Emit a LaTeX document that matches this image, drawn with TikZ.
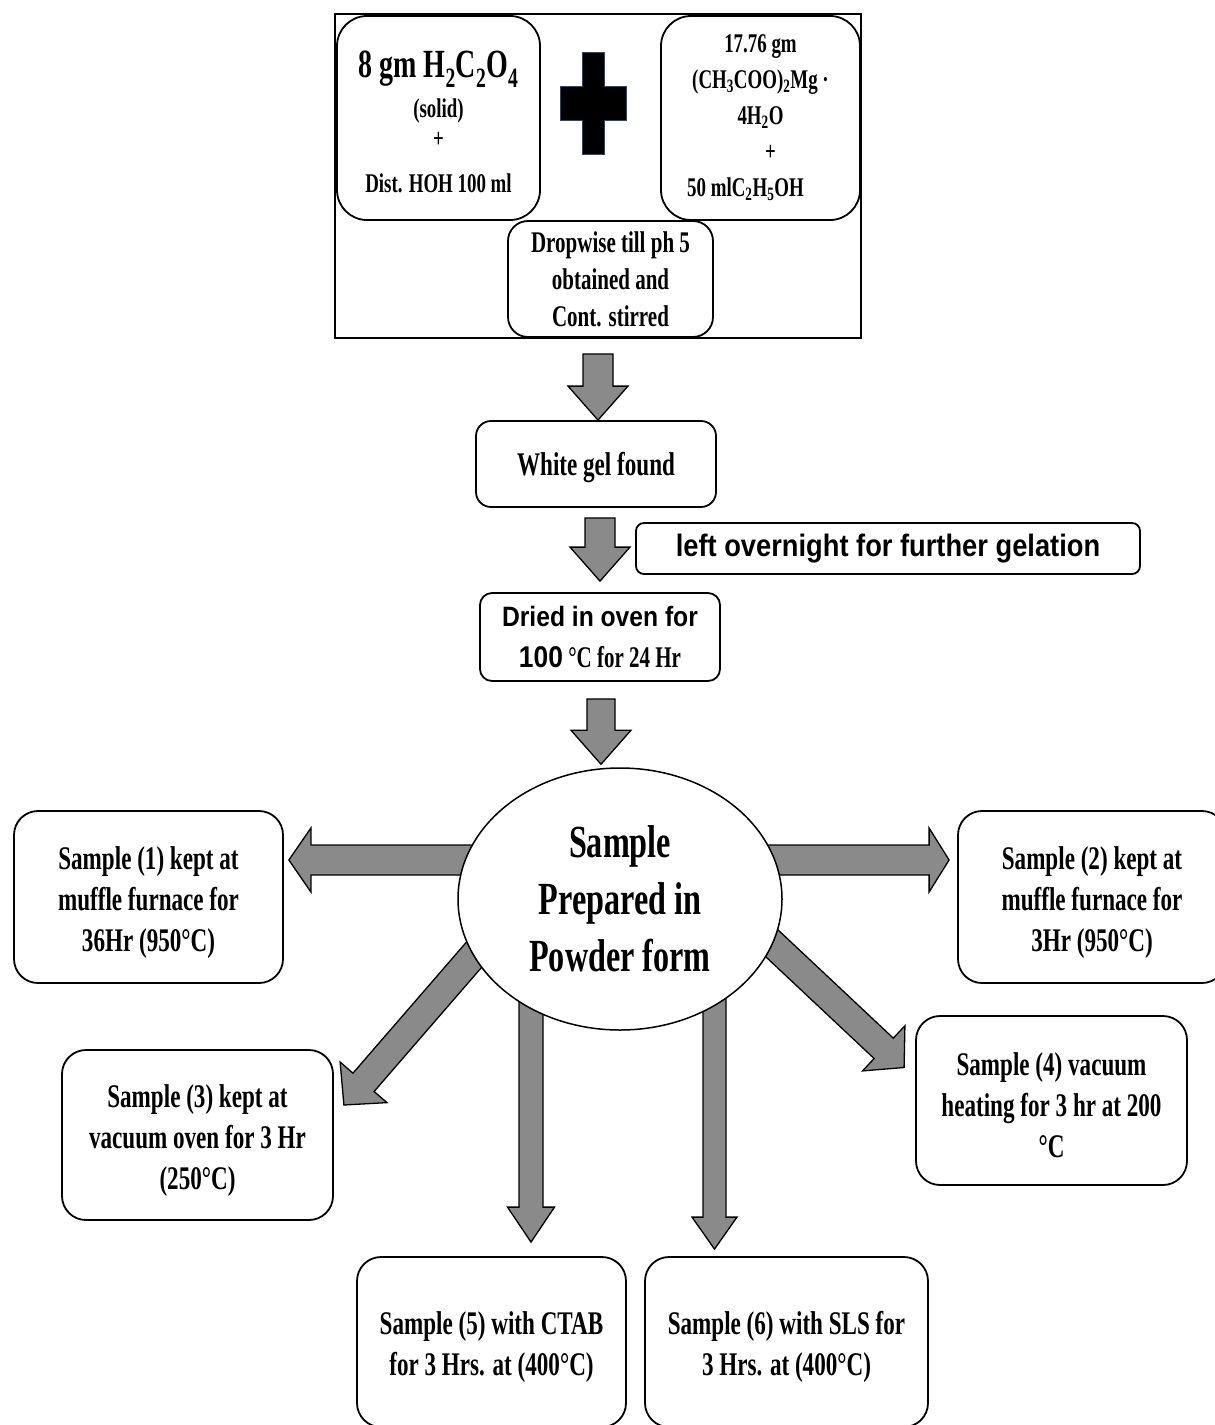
\documentclass[tikz,border=0pt]{standalone}
\usepackage{fontspec}
\setmainfont{Liberation Serif}[FakeStretch=0.7]
\newfontfamily\boldsans{Liberation Sans}[FakeStretch=0.88]
\usepackage{tikz}
\usetikzlibrary{shapes.geometric,calc,backgrounds}
\definecolor{arrowgray}{RGB}{138,138,138}
\definecolor{crossblue}{RGB}{40,70,120}
\newcommand\topstrut{\rule{0pt}{33pt}}

\begin{document}
\begin{tikzpicture}[x=1pt,y=-1pt,
    box/.style={draw,rounded corners=24pt,line width=1.8pt,align=center,inner sep=0pt,
      font=\bfseries\fontsize{33}{41}\selectfont},
    fat/.style n args={3}{draw=black,line width=1.3pt,fill=arrowgray,line join=miter,
      to path={let \p1=(\tikztostart), \p2=(\tikztotarget),
        \n1={atan2(\y2-\y1,\x2-\x1)}, \p3=($(\p2)!#3!(\p1)$) in
        ($(\p1)+(\n1+90:#1)$) -- ($(\p3)+(\n1+90:#1)$) -- ($(\p3)+(\n1+90:#2)$) -- (\p2)
        -- ($(\p3)+(\n1-90:#2)$) -- ($(\p3)+(\n1-90:#1)$) -- ($(\p1)+(\n1-90:#1)$) -- cycle}}
  ]
    \path[use as bounding box] (0,0) rectangle (1215,1425);
    \clip (0,0) rectangle (1215,1425);

    % mixing of the two solutions
    \node[draw,line width=1.8pt,minimum width=526pt,minimum height=324pt,inner sep=0pt] (mix) at (598,176) {};
    \node[box,rounded corners=30pt,minimum width=203pt,minimum height=204pt,
      font=\bfseries\fontsize{27}{30}\selectfont] (acid) at (438.5,118)
      {\rule{0pt}{34pt}{\fontsize{40}{40}\selectfont 8 gm H\textsubscript{2}C\textsubscript{2}O\textsubscript{4}}\\[10pt]
       (solid)\\+\\[15pt]Dist. HOH 100 ml};
    \node[box,rounded corners=30pt,minimum width=199pt,minimum height=204pt,
      font=\bfseries\fontsize{27}{36}\selectfont] (mgac) at (760.5,118)
      {17.76 gm\\(CH\textsubscript{3}COO)\textsubscript{2}Mg ·\\4H\textsubscript{2}O\\
       \hspace*{20pt}+\\50 mlC\textsubscript{2}H\textsubscript{5}OH\hspace*{30pt}};
    \node[box,rounded corners=20pt,minimum width=205pt,minimum height=116pt,
      font=\bfseries\fontsize{30}{37}\selectfont] (drop) at (610.5,279)
      {Dropwise till ph 5\\obtained and\\Cont. stirred};
    \fill[black,draw=crossblue,line width=1pt] (582,52) -- (604,52) -- (604,86) -- (626,86)
      -- (626,120) -- (604,120) -- (604,154) -- (582,154) -- (582,120) -- (560,120)
      -- (560,86) -- (582,86) -- cycle;

    % gel and drying
    \node[box,rounded corners=15pt,minimum width=240pt,minimum height=86pt] (gel) at (596,464)
      {\rule{0pt}{31pt}White gel found};
    \node[box,rounded corners=8pt,minimum width=504pt,minimum height=51pt,
      font=\boldsans\bfseries\fontsize{31}{36}\selectfont] (night) at (888,548.5) {left overnight for further gelation};
    \node[box,rounded corners=12pt,minimum width=240pt,minimum height=88pt,
      font=\bfseries\fontsize{30}{41}\selectfont] (dry) at (600,637)
      {{\boldsans\fontsize{28}{41}\selectfont Dried in oven for}\\{\boldsans 100} °C for 24 Hr};

    % powder and the six samples
    \node[draw,ellipse,fill=white,line width=1.5pt,minimum width=324pt,minimum height=262pt,
      inner sep=0pt,align=center,font=\bfseries\fontsize{46}{57}\selectfont] (pow) at (620,899)
      {Sample\\Prepared in\\Powder form};
    \node[box,minimum width=269pt,minimum height=172pt] (s1) at (148.5,897)
      {\topstrut Sample (1) kept at\\muffle furnace for\\36Hr (950°C)};
    \node[box,minimum width=268pt,minimum height=172pt] (s2) at (1092,897)
      {\topstrut Sample (2) kept at\\muffle furnace for\\3Hr (950°C)};
    \node[box,minimum width=271pt,minimum height=170pt] (s3) at (197.5,1135)
      {\topstrut Sample (3) kept at\\vacuum oven for 3 Hr\\(250°C)};
    \node[box,minimum width=271pt,minimum height=169pt] (s4) at (1051.5,1100.5)
      {\topstrut Sample (4) vacuum\\heating for 3 hr at 200\\°C};
    \node[box,minimum width=269pt,minimum height=170pt] (s5) at (491.5,1342)
      {\topstrut Sample (5) with CTAB\\for 3 Hrs. at (400°C)};
    \node[box,minimum width=283pt,minimum height=170pt] (s6) at (786.5,1342)
      {\topstrut Sample (6) with SLS for\\3 Hrs. at (400°C)};

    % arrow ends
    \coordinate (a1s) at ($(mix.south)+(0,15)$);
    \coordinate (a1e) at (mix.south |- gel.north);
    \coordinate (a2s) at ($(dry.north |- gel.south)+(0,10)$);
    \coordinate (a2e) at ($(dry.north)+(0,-11)$);
    \coordinate (a3s) at ($(dry.south)+(1,17)$);
    \coordinate (a3e) at ($(dry.south |- pow.north)+(1,-3)$);
    \coordinate (t1) at ($(s1.east)+(5,-37)$);
    \coordinate (t2) at ($(s2.west)+(-8,-37)$);
    \coordinate (t3) at ($(s3.east)+(10,-30)$);
    \coordinate (t4) at ($(s4.west)+(-11,-33)$);
    \coordinate (t5) at ($(s5.north)+(39.5,-14)$);
    \coordinate (t6) at ($(s6.north)+(-72,-7)$);
    \coordinate (d3) at (511,912);
    \coordinate (d4) at (729,903);

    \begin{scope}[on background layer]
      \draw[fat={15pt}{30pt}{34pt}] (a1s) to (a1e);
      \draw[fat={15pt}{30pt}{34pt}] (a2s) to (a2e);
      \draw[fat={14pt}{30pt}{34pt}] (a3s) to (a3e);
      \draw[fat={15pt}{32pt}{22pt}] (pow.center |- t1) to (t1);
      \draw[fat={15pt}{32pt}{20pt}] (pow.center |- t2) to (t2);
      \draw[fat={14pt}{31pt}{30pt}] (d3) to (t3);
      \draw[fat={14pt}{31pt}{28pt}] (d4) to (t4);
      \draw[fat={12pt}{23.5pt}{35pt}] (t5 |- pow.center) to (t5);
      \draw[fat={11.5pt}{22.5pt}{32pt}] (t6 |- pow.center) to (t6);
    \end{scope}
  \end{tikzpicture}
\end{document}
